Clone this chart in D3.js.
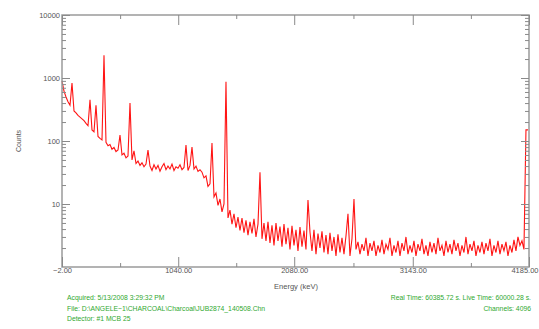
<!DOCTYPE html>
<html>
<head>
<meta charset="utf-8">
<script src="https://cdn.jsdelivr.net/npm/d3@7"></script>
<style>
  body { margin: 0; background: #fff; }
  svg { display: block; font-family: "Liberation Sans", Arial, sans-serif; }
  .axis path, .axis line { stroke: #8a8a8a; }
  .axis text { fill: #555; font-size: 7.5px; }
  .info { fill: #2fa82f; font-size: 6.8px; }
</style>
</head>
<body>
<div id="chart"></div>
<script>
// spectrum, one value every channel group (start at -2 keV, ~17.93 keV per group)
const energyStart = -2;
const energyStep = 17.93;
const counts = [
  900, 620, 500, 420, 370, 830, 300, 280, 255, 240,
  225, 210, 190, 175, 450, 150, 140, 370, 118, 110,
  104, 2300, 95, 84, 88, 74, 79, 68, 72, 124,
  60, 64, 54, 58, 400, 50, 70, 44, 48, 41,
  45, 39, 43, 72, 40, 34, 42, 36, 41, 33,
  39, 44, 35, 40, 36, 43, 34, 39, 37, 42,
  35, 38, 86, 34, 41, 80, 36, 40, 33, 35,
  32, 26, 28, 19, 21, 93, 13, 15, 9.5, 12,
  7.5, 10, 870, 6, 8, 4.8, 7, 4.2, 6.2, 3.8,
  6, 3.5, 5.5, 3.2, 5.2, 3.4, 5.8, 3.0, 4.8, 32,
  2.8, 5.0, 2.6, 5.2, 2.4, 4.6, 2.2, 5.0, 2.6, 4.4,
  2.1, 4.8, 2.3, 4.2, 1.9, 4.5, 2.2, 3.9, 1.8, 4.3,
  2.1, 3.8, 1.9, 11.6, 3.6, 1.8, 3.9, 1.6, 3.4, 2.0,
  3.7, 1.7, 3.2, 1.6, 3.5, 1.8, 3.0, 1.5, 3.3, 1.7,
  2.9, 1.6, 3.1, 7.0, 1.5, 2.8, 12, 1.9, 2.5, 1.6,
  2.3, 1.8, 2.9, 1.5, 2.4, 1.8, 2.6, 1.5, 2.2, 1.7,
  2.7, 1.6, 2.3, 1.9, 2.9, 1.5, 2.2, 1.7, 2.6, 1.5,
  2.4, 1.8, 3.0, 1.6, 2.2, 1.7, 2.6, 1.5, 2.3, 1.8,
  2.8, 1.6, 2.2, 1.5, 2.5, 1.7, 2.4, 1.6, 2.9, 1.8,
  2.2, 1.5, 2.6, 1.7, 2.3, 1.6, 2.7, 1.8, 2.4, 1.5,
  2.2, 1.7, 3.0, 1.6, 2.3, 1.8, 2.6, 1.5, 2.2, 1.7,
  2.5, 1.6, 2.4, 1.8, 2.8, 1.5, 2.2, 1.7, 2.6, 1.6,
  2.3, 1.8, 2.5, 1.5, 2.2, 1.7, 2.7, 1.8, 3.0, 2.2,
  2.6, 1.9, 150, 150
];

const xTicks = [-2, 1040, 2080, 3143, 4185];
const xMinorTicks = [519, 1560, 2611, 3664];
const yTicks = [10, 100, 1000, 10000];
const yMinorTicks = [2, 3, 4, 5, 6, 7, 8, 9, 20, 30, 40, 50, 60, 70, 80, 90,
  200, 300, 400, 500, 600, 700, 800, 900, 2000, 3000, 4000, 5000, 6000, 7000, 8000, 9000];

const infoLeft = [
  "Acquired:  5/13/2008 3:29:32 PM",
  "File:  D:\\ANGELE~1\\CHARCOAL\\Charcoal\\JUB2874_140508.Chn",
  "Detector:  #1 MCB 25"
];
const infoRight = [
  "Real Time: 60385.72 s.   Live Time: 60000.28 s.",
  "Channels:  4096"
];

const width = 539, height = 329;
const margin = {top: 15, right: 10, bottom: 62, left: 62};

const svg = d3.select("#chart").append("svg")
  .attr("width", width)
  .attr("height", height);

const x = d3.scaleLinear()
  .domain([-2, 4185])
  .range([margin.left, width - margin.right]);

const y = d3.scaleLog()
  .domain([1, 10000])
  .range([height - margin.bottom, margin.top]);

const data = counts.map((c, i) => ({energy: energyStart + i * energyStep, count: c}));

const line = d3.line()
  .x(d => x(d.energy))
  .y(d => y(d.count));

svg.append("path")
  .datum(data)
  .attr("fill", "none")
  .attr("stroke", "#ff1414")
  .attr("stroke-width", 1.1)
  .attr("d", line);

const bottom = height - margin.bottom;
const right = width - margin.right;

// frame
svg.append("rect")
  .attr("x", margin.left)
  .attr("y", margin.top)
  .attr("width", right - margin.left)
  .attr("height", bottom - margin.top)
  .attr("fill", "none")
  .attr("stroke", "#9a9a9a")
  .attr("stroke-width", 1.5);

// bottom axis, ticks pointing inward
svg.append("g")
  .attr("class", "axis")
  .attr("transform", `translate(0,${bottom})`)
  .call(d3.axisBottom(x).tickValues(xMinorTicks).tickSize(-4).tickFormat(""))
  .call(g => g.select(".domain").remove());

svg.append("g")
  .attr("class", "axis")
  .attr("transform", `translate(0,${bottom})`)
  .call(d3.axisBottom(x).tickValues(xTicks).tickSize(-10).tickPadding(3).tickFormat(d3.format(".2f")))
  .call(g => g.select(".domain").remove())
  .call(g => g.selectAll("text").attr("dy", "0.45em"))
  .call(g => g.selectAll(".tick:last-of-type text").attr("text-anchor", "end").attr("x", 9));

// top axis
svg.append("g")
  .attr("class", "axis")
  .attr("transform", `translate(0,${margin.top})`)
  .call(d3.axisTop(x).tickValues(xMinorTicks).tickSize(-4).tickFormat(""))
  .call(g => g.select(".domain").remove());

svg.append("g")
  .attr("class", "axis")
  .attr("transform", `translate(0,${margin.top})`)
  .call(d3.axisTop(x).tickValues(xTicks).tickSize(-10).tickFormat(""))
  .call(g => g.select(".domain").remove());

// left axis
svg.append("g")
  .attr("class", "axis")
  .attr("transform", `translate(${margin.left},0)`)
  .call(d3.axisLeft(y).tickValues(yMinorTicks).tickSize(-4).tickFormat(""))
  .call(g => g.select(".domain").remove());

svg.append("g")
  .attr("class", "axis")
  .attr("transform", `translate(${margin.left},0)`)
  .call(d3.axisLeft(y).tickValues(yTicks).tickSize(-8).tickPadding(2).tickFormat(d3.format("d")))
  .call(g => g.select(".domain").remove());

// right axis
svg.append("g")
  .attr("class", "axis")
  .attr("transform", `translate(${right},0)`)
  .call(d3.axisRight(y).tickValues(yMinorTicks).tickSize(-4).tickFormat(""))
  .call(g => g.select(".domain").remove());

svg.append("g")
  .attr("class", "axis")
  .attr("transform", `translate(${right},0)`)
  .call(d3.axisRight(y).tickValues(yTicks).tickSize(-8).tickFormat(""))
  .call(g => g.select(".domain").remove());

// axis titles
svg.append("text")
  .attr("transform", `translate(21,${(margin.top + bottom) / 2}) rotate(-90)`)
  .attr("text-anchor", "middle")
  .attr("fill", "#555")
  .style("font-size", "7px")
  .text("Counts");

svg.append("text")
  .attr("x", 296)
  .attr("y", 289)
  .attr("text-anchor", "middle")
  .attr("fill", "#555")
  .style("font-size", "7.5px")
  .text("Energy (keV)");

// acquisition info
svg.append("g")
  .selectAll("text")
  .data(infoLeft)
  .enter().append("text")
  .attr("class", "info")
  .attr("x", 67)
  .attr("y", (d, i) => 300 + i * 10.5)
  .text(d => d);

svg.append("g")
  .selectAll("text")
  .data(infoRight)
  .enter().append("text")
  .attr("class", "info")
  .attr("text-anchor", "end")
  .attr("x", 531)
  .attr("y", (d, i) => 300 + i * 10.5)
  .text(d => d);
</script>
</body>
</html>
